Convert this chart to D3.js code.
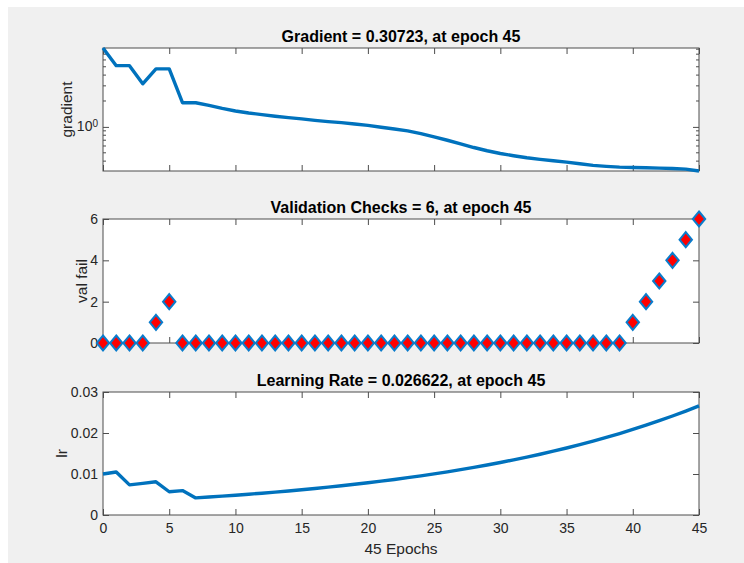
<!DOCTYPE html>
<html>
<head>
<meta charset="utf-8">
<script src="https://cdn.jsdelivr.net/npm/d3@7"></script>
<style>
  body { margin: 0; background: #fff; }
  svg { display: block; font-family: "Liberation Sans", Arial, Helvetica, sans-serif; }
</style>
</head>
<body>
<script>
// epochs 0..45
var epochs = d3.range(0, 46);
var xTicks = [0, 5, 10, 15, 20, 25, 30, 35, 40, 45];

// gradient per epoch
var gradient = [8.26, 5.15, 5.15, 3.17, 4.72, 4.72, 1.91, 1.91, 1.78, 1.64,
                1.53, 1.45, 1.39, 1.33, 1.28, 1.24, 1.19, 1.15, 1.12, 1.08,
                1.04, 0.99, 0.945, 0.90, 0.837, 0.766, 0.70, 0.636, 0.576, 0.528,
                0.491, 0.462, 0.438, 0.419, 0.404, 0.390, 0.373, 0.357, 0.348, 0.341,
                0.338, 0.335, 0.332, 0.329, 0.323, 0.30723];

// validation fails per epoch
var valFail = [0, 0, 0, 0, 1, 2, 0, 0, 0, 0,
               0, 0, 0, 0, 0, 0, 0, 0, 0, 0,
               0, 0, 0, 0, 0, 0, 0, 0, 0, 0,
               0, 0, 0, 0, 0, 0, 0, 0, 0, 0,
               1, 2, 3, 4, 5, 6];
var valTicks = [0, 2, 4, 6];

// learning rate per epoch
var lr = [0.01, 0.0105, 0.00735, 0.0077175, 0.0081034, 0.0056724, 0.005956, 0.0041692, 0.0043777, 0.0045965,
          0.0048264, 0.0050677, 0.0053211, 0.0055871, 0.0058665, 0.0061598, 0.0064678, 0.0067912, 0.0071308, 0.0074873,
          0.0078617, 0.0082547, 0.0086675, 0.0091009, 0.0095559, 0.0100337, 0.0105354, 0.0110621, 0.0116152, 0.012196,
          0.0128058, 0.0134461, 0.0141184, 0.0148243, 0.0155655, 0.0163438, 0.017161, 0.0180191, 0.01892, 0.019866,
          0.0208593, 0.0219023, 0.0229974, 0.0241473, 0.0253546, 0.026622];
var lrTicks = [0, 0.01, 0.02, 0.03];

var titles = ["Gradient = 0.30723, at epoch 45",
              "Validation Checks = 6, at epoch 45",
              "Learning Rate = 0.026622, at epoch 45"];
var yLabels = ["gradient", "val fail", "lr"];
var xLabel = "45 Epochs";

var W = 744, H = 563;
var left = 103, right = 699;
var panels = [{top: 48, bottom: 171}, {top: 219, bottom: 343}, {top: 392, bottom: 515}];
var blue = "#0072bd", axisCol = "#4d4d4d", textCol = "#262626";

var svg = d3.select("body").append("svg").attr("width", W).attr("height", H);
svg.append("rect").attr("x", 8).attr("y", 7).attr("width", W - 8).attr("height", H - 7).attr("fill", "#f0f0f0");

var x = d3.scaleLinear().domain([0, 45]).range([left, right]);

function frame(p, i, y, ticks, fmt, labelX) {
  var g = svg.append("g");
  g.append("rect").attr("x", left).attr("y", p.top).attr("width", right - left)
    .attr("height", p.bottom - p.top).attr("fill", "#fff");

  // x ticks top and bottom, inward
  g.append("g").attr("transform", "translate(0," + p.bottom + ")")
    .call(d3.axisBottom(x).tickValues(xTicks).tickSize(-6).tickPadding(8)
      .tickFormat(i == 2 ? d3.format("d") : ""));
  g.append("g").attr("transform", "translate(0," + p.top + ")")
    .call(d3.axisTop(x).tickValues(xTicks).tickSize(-6).tickFormat(""));

  // y ticks left and right
  var ly = d3.axisLeft(y).tickSize(-6).tickPadding(5);
  var ry = d3.axisRight(y).tickSize(-6).tickFormat("");
  if (ticks) { ly.tickValues(ticks).tickFormat(fmt); ry.tickValues(ticks); }
  g.append("g").attr("transform", "translate(" + left + ",0)").call(ly);
  g.append("g").attr("transform", "translate(" + right + ",0)").call(ry);

  g.selectAll(".domain").remove();
  g.selectAll(".tick line").attr("stroke", axisCol);
  g.selectAll(".tick text").attr("fill", textCol).style("font-size", "14px");

  g.append("rect").attr("x", left).attr("y", p.top).attr("width", right - left)
    .attr("height", p.bottom - p.top).attr("fill", "none").attr("stroke", axisCol);

  svg.append("text").attr("x", (left + right) / 2).attr("y", p.top - 6)
    .attr("text-anchor", "middle").attr("fill", "#000")
    .style("font-size", "16px").style("font-weight", "bold").text(titles[i]);

  svg.append("text")
    .attr("transform", "translate(" + labelX + "," + (p.top + p.bottom) / 2 + ") rotate(-90)")
    .attr("text-anchor", "middle").attr("dy", "0.35em").attr("fill", textCol)
    .style("font-size", "15.5px").text(yLabels[i]);
  return g;
}

// ---- gradient (log) ----
var y0 = d3.scaleLog().domain([0.30723, 8.26]).range([panels[0].bottom, panels[0].top]);
var g0 = frame(panels[0], 0, y0, [1], function() { return ""; }, 67);
// minor ticks
var minor = [0.4, 0.5, 0.6, 0.7, 0.8, 0.9, 2, 3, 4, 5, 6, 7, 8];
[left, right].forEach(function(xx) {
  var s = xx == left ? 1 : -1;
  g0.selectAll(null).data(minor).enter().append("line")
    .attr("x1", xx).attr("x2", xx + s * 3)
    .attr("y1", function(d) { return y0(d); }).attr("y2", function(d) { return y0(d); })
    .attr("stroke", axisCol);
});
var lbl = g0.append("text").attr("x", left - 5).attr("y", y0(1)).attr("dy", "0.32em")
  .attr("text-anchor", "end").attr("fill", textCol).style("font-size", "14px");
lbl.append("tspan").text("10");
lbl.append("tspan").attr("dy", "-0.45em").style("font-size", "10px").text("0");

var line0 = d3.line().x(function(d, i) { return x(epochs[i]); }).y(function(d) { return y0(d); });
svg.append("path").datum(gradient).attr("d", line0).attr("fill", "none")
  .attr("stroke", blue).attr("stroke-width", 3.4).attr("stroke-linejoin", "round");

// ---- validation checks ----
var y1 = d3.scaleLinear().domain([0, 6]).range([panels[1].bottom, panels[1].top]);
frame(panels[1], 1, y1, valTicks, d3.format("d"), 82);
svg.append("g").selectAll("path").data(valFail).enter().append("path")
  .attr("transform", function(d, i) { return "translate(" + x(epochs[i]) + "," + y1(d) + ")"; })
  .attr("d", "M0,-7.5L6.2,0L0,7.5L-6.2,0Z")
  .attr("fill", "#ff0000").attr("stroke", "#0a7ccc").attr("stroke-width", 2);

// ---- learning rate ----
var y2 = d3.scaleLinear().domain([0, 0.03]).range([panels[2].bottom, panels[2].top]);
frame(panels[2], 2, y2, lrTicks, function(d) { return d == 0 ? "0" : d3.format(".2f")(d); }, 62);
var line2 = d3.line().x(function(d, i) { return x(epochs[i]); }).y(function(d) { return y2(d); });
svg.append("path").datum(lr).attr("d", line2).attr("fill", "none")
  .attr("stroke", blue).attr("stroke-width", 3.4).attr("stroke-linejoin", "round");

svg.append("text").attr("x", (left + right) / 2).attr("y", 549).attr("dy", "0.35em")
  .attr("text-anchor", "middle").attr("fill", textCol).style("font-size", "15.5px").text(xLabel);
</script>
</body>
</html>
